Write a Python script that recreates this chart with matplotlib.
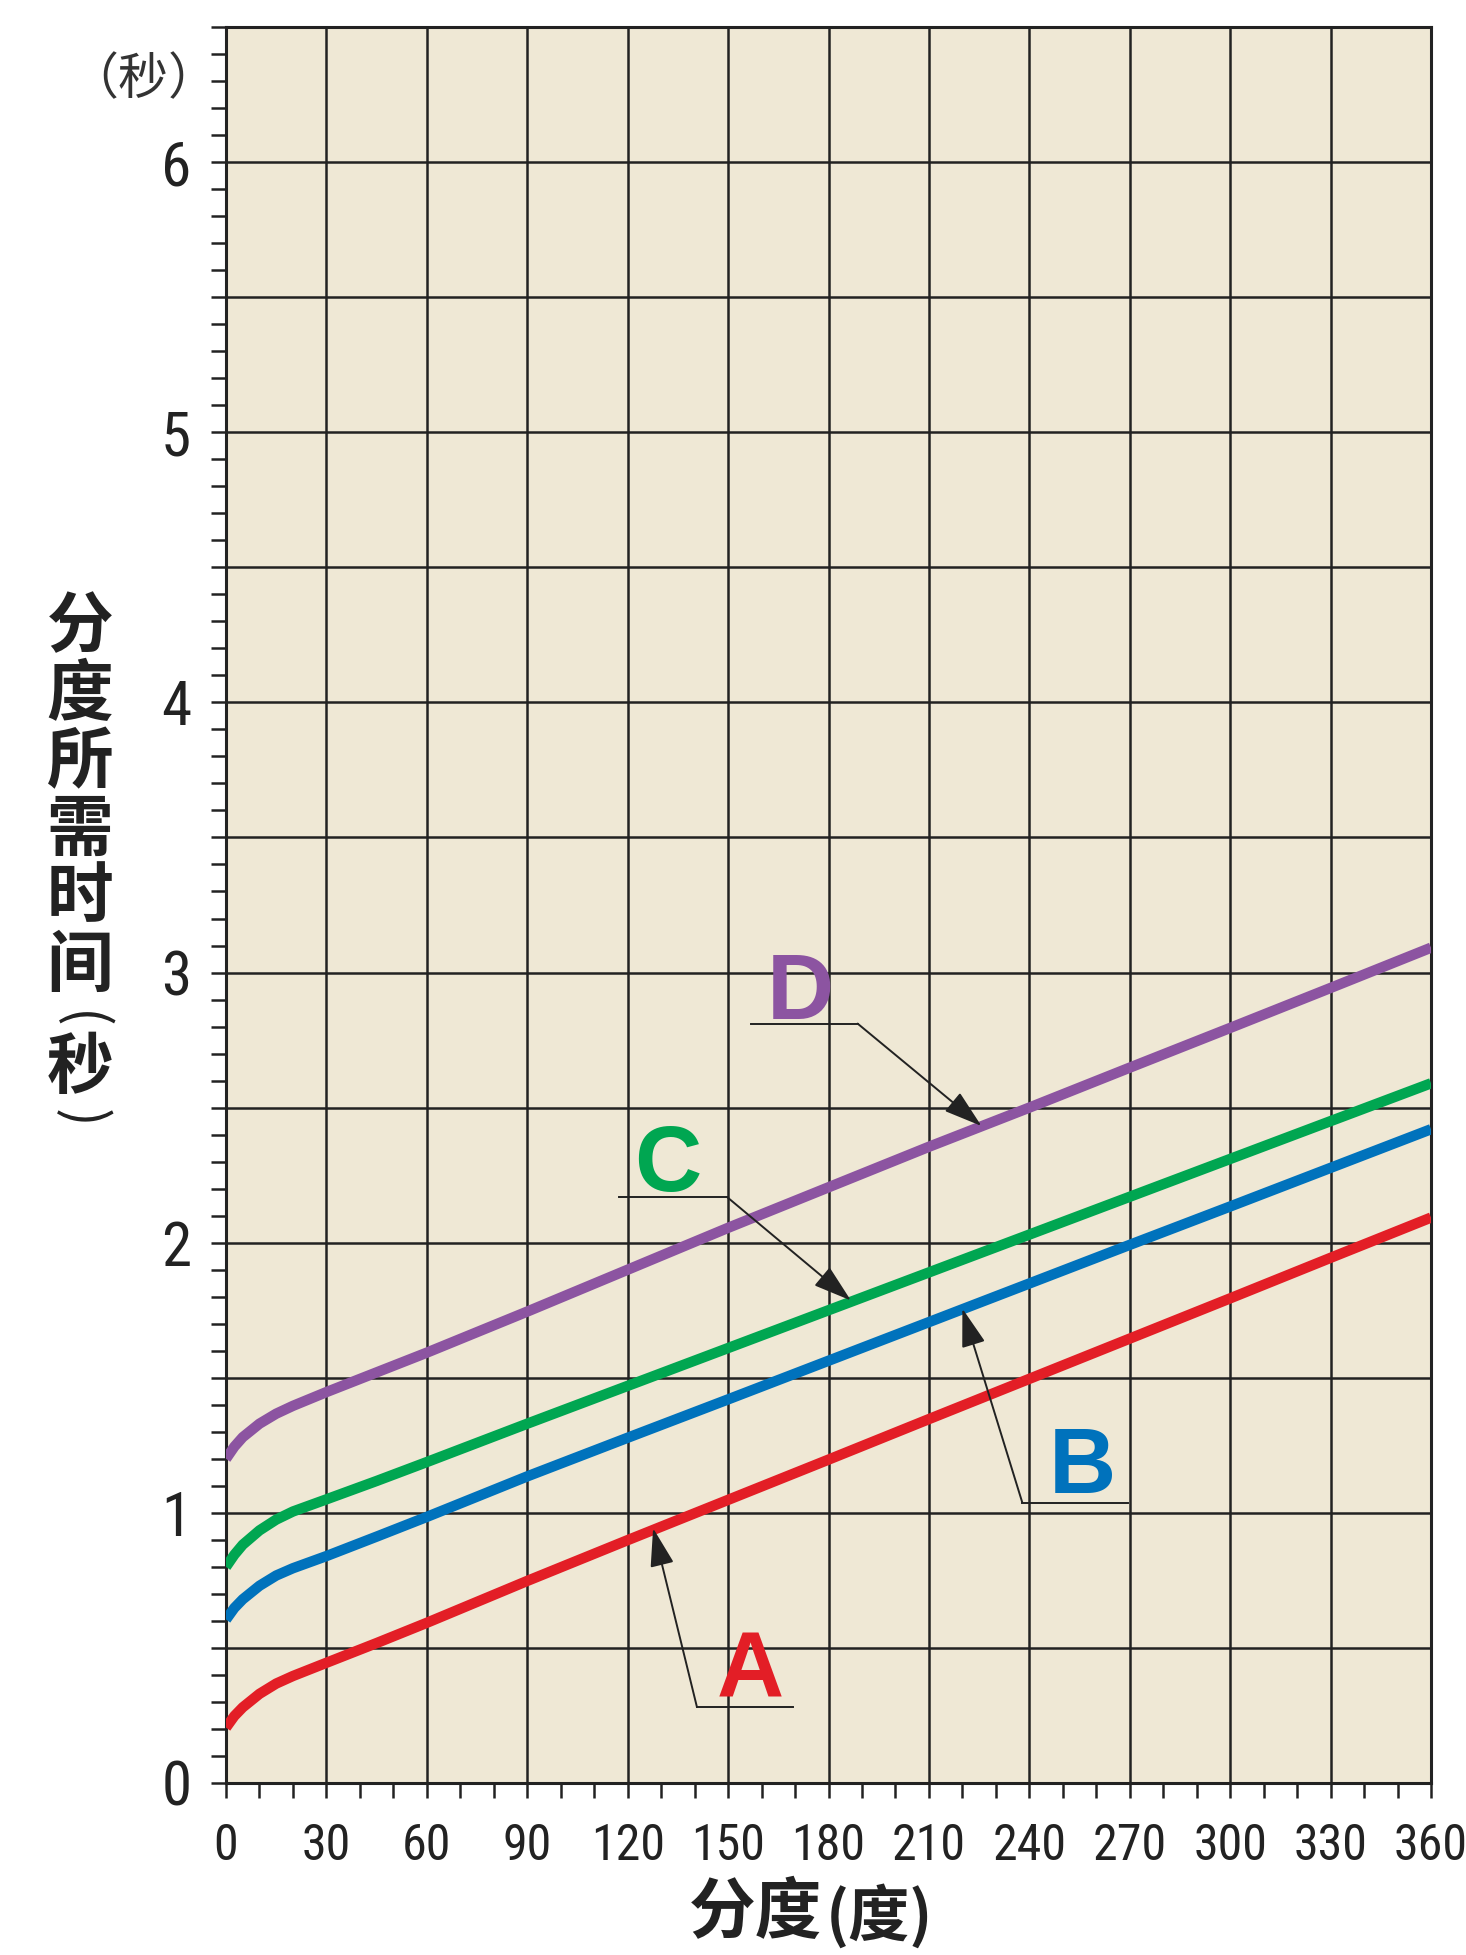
import numpy as np
import matplotlib
matplotlib.use('Agg')
import matplotlib.pyplot as plt
from matplotlib import font_manager
from matplotlib.ticker import MultipleLocator, FuncFormatter

# indexing angle (deg) and indexing time (s)
deg = [0, 2.5, 5, 10, 15, 20, 30, 45, 60, 90, 120, 150, 180, 210, 240, 270, 300, 330, 360]
time_a = [0.205, 0.248, 0.28, 0.33, 0.368, 0.396, 0.445, 0.518, 0.593, 0.748, 0.899, 1.048, 1.197, 1.347, 1.496, 1.645, 1.794, 1.944, 2.093]
time_b = [0.605, 0.648, 0.68, 0.73, 0.768, 0.795, 0.84, 0.912, 0.985, 1.135, 1.278, 1.42, 1.563, 1.706, 1.849, 1.992, 2.134, 2.277, 2.42]
time_c = [0.80, 0.845, 0.882, 0.935, 0.975, 1.005, 1.05, 1.118, 1.188, 1.33, 1.47, 1.61, 1.75, 1.89, 2.03, 2.17, 2.31, 2.45, 2.59]
time_d = [1.20, 1.245, 1.28, 1.33, 1.367, 1.396, 1.447, 1.52, 1.593, 1.745, 1.90, 2.055, 2.205, 2.355, 2.50, 2.648, 2.795, 2.943, 3.092]

series = ['A', 'B', 'C', 'D']
colors = {'A': '#E31E26', 'B': '#0072BC', 'C': '#00A651', 'D': '#8C54A1'}
values = {'A': time_a, 'B': time_b, 'C': time_c, 'D': time_d}

# label letter position, leader ends and arrow tip (data coords)
label_pos = {'A': (156.6, 0.319), 'B': (255.9, 1.075), 'C': (131.9, 2.19), 'D': (171.6, 2.827)}
leader_x = {'A': (169.4, 140.7), 'B': (269.5, 237.9), 'C': (117.4, 149.7), 'D': (156.7, 188.7)}
leader_y = {'A': 0.281, 'B': 1.038, 'C': 2.169, 'D': 2.811}
arrow_tip = {'A': (127.6, 0.943), 'B': (220.0, 1.756), 'C': (186.7, 1.786), 'D': (225.7, 2.432)}

ylabel_chars = ['分', '度', '所', '需', '时', '间', '(', '秒', ')']
ylabel_ys = [628, 696, 763, 830, 898, 966, 1020, 1069, 1118]

# pick a narrow face for the numbers if there is one
names = {f.name for f in font_manager.fontManager.ttflist}
num_font = 'Liberation Sans'
xsize, ysize = 28, 34
for cand in ['Liberation Sans Narrow', 'DejaVu Sans Condensed', 'Roboto Condensed', 'Open Sans Condensed']:
    if cand in names:
        num_font = cand
        xsize, ysize = 36, 44
        break

cjk = ['Noto Sans CJK SC', 'DejaVu Sans']
ink = '#222222'
W, H = 1466, 1955

fig = plt.figure(figsize=(W / 100, H / 100), dpi=100)
ax = fig.add_axes([226 / W, 1 - 1783 / H, 1205 / W, (1783 - 27) / H])
ax.set_facecolor('#EFE8D5')

for s in series:
    ax.plot(deg, values[s], color=colors[s], lw=7.5, solid_capstyle='butt',
            solid_joinstyle='round', zorder=3)

for s in series:
    x0, x1 = leader_x[s]
    y = leader_y[s]
    ax.plot([x0, x1], [y, y], color=ink, lw=1.4, zorder=4)
    ax.annotate('', xy=arrow_tip[s], xytext=(x1, y),
                arrowprops=dict(arrowstyle='-|>,head_length=0.8,head_width=0.25',
                                mutation_scale=30, color=ink, lw=1.4,
                                shrinkA=0, shrinkB=0), zorder=4)
    lx, ly = label_pos[s]
    ax.text(lx, ly, s, color=colors[s], fontsize=67, fontweight='bold',
            family='Liberation Sans', ha='center', va='baseline', zorder=5)

ax.set_xlim(0, 360)
ax.set_ylim(0, 6.5)
ax.xaxis.set_major_locator(MultipleLocator(30))
ax.xaxis.set_minor_locator(MultipleLocator(10))
ax.yaxis.set_major_locator(MultipleLocator(0.5))
ax.yaxis.set_minor_locator(MultipleLocator(0.1))
ax.yaxis.set_major_formatter(FuncFormatter(lambda v, p: '%d' % v if abs(v - round(v)) < 1e-6 else ''))

ax.grid(True, which='major', color=ink, lw=1.8, zorder=1)
ax.set_axisbelow(True)
for sp in ax.spines.values():
    sp.set_color(ink)
    sp.set_linewidth(2.2)

ax.tick_params(which='both', direction='out', length=11, width=1.8, color=ink)
ax.tick_params(axis='x', which='major', pad=17, labelsize=xsize, labelcolor=ink)
ax.tick_params(axis='y', which='major', pad=14, labelsize=ysize, labelcolor=ink)
for lab in ax.get_xticklabels() + ax.get_yticklabels():
    lab.set_family(num_font)

# unit mark top left
fig.text(143 / W, 1 - 80 / H, '（秒）', family=cjk, fontsize=36, color='#333333',
         ha='center', va='center')

# vertical y label, one upright character per row, brackets turned
for ch, y in zip(ylabel_chars, ylabel_ys):
    if ch in '()':
        fig.text(80 / W, 1 - y / H, ch, family=cjk, fontsize=40, color=ink,
                 rotation=-90, ha='center', va='center')
    else:
        fig.text(80 / W, 1 - y / H, ch, family=cjk, fontsize=48, fontweight='bold',
                 color=ink, ha='center', va='center')

# x label
fig.text(822 / W, 1 - 1880 / H, '分度', family=cjk, fontsize=48, fontweight='bold',
         color=ink, ha='right', va='top')
fig.text(826 / W, 1 - 1884 / H, '(度)', family=cjk, fontsize=44, fontweight='bold',
         color=ink, ha='left', va='top')

fig.savefig('out.png', dpi=100, facecolor='white')
